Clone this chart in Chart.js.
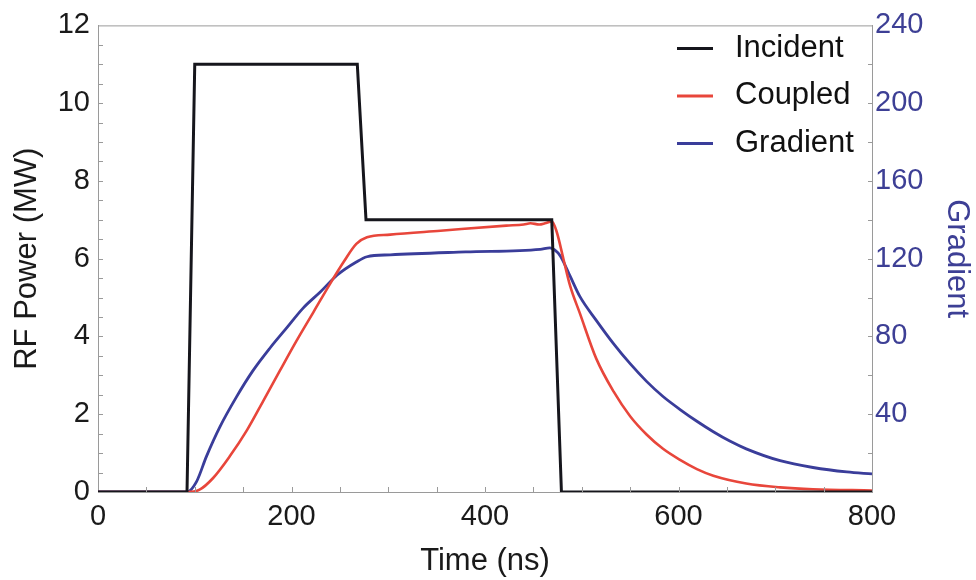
<!DOCTYPE html>
<html>
<head>
<meta charset="utf-8">
<script src="https://cdn.jsdelivr.net/npm/chart.js@4.4.1/dist/chart.umd.min.js"></script>
<style>
  html, body { margin: 0; padding: 0; background: #fff; }
  #wrap { width: 976px; height: 580px; }
</style>
</head>
<body>
<div id="wrap"><canvas id="rfChart" width="976" height="580"></canvas></div>
<script>
'use strict';

// time (ns) / power (MW)
const incidentTime = [0, 92, 100, 268, 277, 469, 479, 800];
const incidentPower = [0, 0, 11, 11, 7, 7, 0, 0];

const coupledTime = [0, 92, 105, 119, 136, 154, 171, 188, 205, 223, 240, 254, 267, 278, 302, 354, 422, 440, 447, 456, 462, 469, 474, 481, 488, 498, 515, 533, 550, 567, 584, 602, 619, 636, 670, 705, 739, 800];
const coupledPower = [0, 0, 0.06, 0.36, 0.91, 1.59, 2.35, 3.12, 3.88, 4.64, 5.36, 5.92, 6.38, 6.55, 6.62, 6.72, 6.85, 6.88, 6.91, 6.88, 6.91, 6.96, 6.7, 6.0, 5.3, 4.6, 3.43, 2.58, 1.95, 1.48, 1.11, 0.82, 0.59, 0.42, 0.22, 0.12, 0.07, 0.04];

const gradientTime = [0, 92, 102, 112, 126, 143, 160, 178, 195, 212, 230, 247, 267, 278, 302, 380, 457, 467, 472, 478, 488, 498, 515, 533, 550, 567, 584, 602, 619, 636, 653, 670, 705, 739, 774, 800];
const gradientValue = [0, 0, 5.5, 18.2, 33.5, 48.8, 62.3, 74.2, 84.4, 94.6, 103, 111.5, 118.3, 121, 122, 123.5, 124.8, 125.6, 124.5, 121.3, 111, 100.6, 88.3, 76.2, 66, 56.9, 49.1, 42.3, 36.4, 31, 26.2, 22.2, 16.1, 12.6, 10.3, 9.3];

const seriesLabels = ['Incident', 'Coupled', 'Gradient'];
const seriesColors = ['#16161c', '#e8463b', '#3a3d9a'];

const toPoints = (xs, ys) => xs.map((x, i) => ({x: x, y: ys[i]}));

const FONT = 'Liberation Sans, Arial, Helvetica, sans-serif';
const FRAME = '#9a9a9a';

// inward tick marks + top frame line
const frameTicks = {
  id: 'frameTicks',
  afterDatasetsDraw(chart) {
    const {ctx, chartArea: a, scales} = chart;
    ctx.save();
    ctx.strokeStyle = FRAME;
    ctx.lineWidth = 1;
    ctx.beginPath();
    ctx.moveTo(a.left, a.top + 0.5);
    ctx.lineTo(a.right, a.top + 0.5);
    for (let v = 50; v < 800; v += 50) {
      const px = Math.round(scales.x.getPixelForValue(v)) + 0.5;
      ctx.moveTo(px, a.bottom);
      ctx.lineTo(px, a.bottom - 5);
    }
    for (let v = 0.5; v < 12; v += 0.5) {
      const py = Math.round(scales.y.getPixelForValue(v)) + 0.5;
      ctx.moveTo(a.left, py);
      ctx.lineTo(a.left + 5, py);
    }
    for (let v = 20; v < 240; v += 20) {
      const py = Math.round(scales.y2.getPixelForValue(v)) + 0.5;
      ctx.moveTo(a.right, py);
      ctx.lineTo(a.right - 4, py);
    }
    ctx.stroke();
    ctx.restore();
  }
};

// legend in the upper right corner of the plot
const cornerLegend = {
  id: 'cornerLegend',
  afterDraw(chart) {
    const {ctx, chartArea: a} = chart;
    ctx.save();
    ctx.font = '31px ' + FONT;
    ctx.textBaseline = 'middle';
    ctx.textAlign = 'left';
    chart.data.datasets.forEach((ds, i) => {
      const y = a.top + 23 + i * 47.5;
      ctx.strokeStyle = ds.borderColor;
      ctx.lineWidth = 3;
      ctx.beginPath();
      ctx.moveTo(a.right - 195, y);
      ctx.lineTo(a.right - 159, y);
      ctx.stroke();
      ctx.fillStyle = '#111';
      ctx.fillText(ds.label, a.right - 137, y);
    });
    ctx.restore();
  }
};

const rf_data = {
  datasets: [{
    label: seriesLabels[0],
    data: toPoints(incidentTime, incidentPower),
    borderColor: seriesColors[0],
    borderWidth: 3,
    yAxisID: 'y',
    tension: 0
  },
  {
    label: seriesLabels[1],
    data: toPoints(coupledTime, coupledPower),
    borderColor: seriesColors[1],
    borderWidth: 2.6,
    yAxisID: 'y',
    cubicInterpolationMode: 'monotone'
  },
  {
    label: seriesLabels[2],
    data: toPoints(gradientTime, gradientValue),
    borderColor: seriesColors[2],
    borderWidth: 2.8,
    yAxisID: 'y2',
    cubicInterpolationMode: 'monotone'
  }]
};

// config
const rf_config = {
  type: 'line',
  data: rf_data,
  options: {
    responsive: false,
    animation: false,
    events: [],
    layout: { padding: { top: 21, left: 0, right: 0, bottom: 0 } },
    elements: { point: { radius: 0 } },
    plugins: {
      legend: { display: false },
      tooltip: { enabled: false }
    },
    scales: {
      x: {
        type: 'linear',
        min: 0,
        max: 800,
        grid: { display: false, drawTicks: false },
        border: { color: FRAME, width: 1 },
        ticks: { stepSize: 200, padding: 8, color: '#1a1a1a', font: { family: FONT, size: 29 } },
        title: { display: true, text: 'Time (ns)', color: '#1a1a1a', padding: { top: 4, bottom: 0 }, font: { family: FONT, size: 31 } },
        afterFit: s => { s.height = 88; }
      },
      y: {
        position: 'left',
        min: 0,
        max: 12,
        grid: { display: false, drawTicks: false },
        border: { color: FRAME, width: 1 },
        ticks: { stepSize: 2, padding: 8, color: '#1a1a1a', font: { family: FONT, size: 29 } },
        title: { display: true, text: 'RF Power (MW)', color: '#1a1a1a', padding: { top: 9, bottom: 0 }, font: { family: FONT, size: 31 } },
        afterFit: s => { s.width = 98; }
      },
      y2: {
        position: 'right',
        min: 0,
        max: 240,
        grid: { display: false, drawTicks: false },
        border: { color: FRAME, width: 1 },
        ticks: {
          stepSize: 40,
          padding: 3,
          color: '#3d3f95',
          font: { family: FONT, size: 29 },
          callback: v => (v === 0 ? '' : v)
        },
        title: { display: true, text: 'Gradient', color: '#3d3f95', padding: { top: 1, bottom: 0 }, font: { family: FONT, size: 31 } },
        afterFit: s => { s.width = 104; }
      }
    }
  },
  plugins: [frameTicks, cornerLegend]
};

// render init block
const rfChart = new Chart(
  document.getElementById('rfChart'),
  rf_config
);
</script>
</body>
</html>
